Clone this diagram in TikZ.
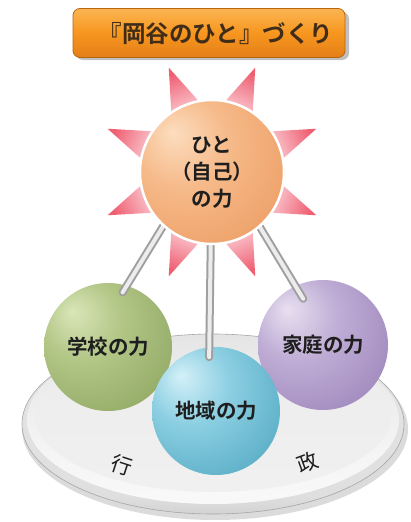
\documentclass[tikz,border=0pt]{standalone}
\usepackage{fontspec}
\newfontfamily\jp[BoldFont={Noto Sans CJK JP Bold}]{Noto Sans CJK JP}
\usetikzlibrary{calc}
\pgfdeclarelayer{bg}
\pgfdeclarelayer{back}
\pgfdeclarelayer{balls}
\pgfdeclarelayer{rods}
\pgfsetlayers{bg,back,balls,rods,main}

\definecolor{sunA}{HTML}{FCDDBF}
\definecolor{sunB}{HTML}{F6BA8A}
\definecolor{sunC}{HTML}{EC9C62}
\definecolor{sunD}{HTML}{D9844A}
\definecolor{grA}{HTML}{D9E6B8}
\definecolor{grB}{HTML}{B2C686}
\definecolor{grC}{HTML}{8FA662}
\definecolor{grD}{HTML}{6A8542}
\definecolor{blA}{HTML}{D4F0F8}
\definecolor{blB}{HTML}{8CCFE2}
\definecolor{blC}{HTML}{52A9C2}
\definecolor{blD}{HTML}{3688A2}
\definecolor{puA}{HTML}{E8E0F0}
\definecolor{puB}{HTML}{C0AED6}
\definecolor{puC}{HTML}{9C84BA}
\definecolor{puD}{HTML}{755894}
\definecolor{rayD}{HTML}{EF5F72}
\definecolor{rayL}{HTML}{FBD3D9}
\definecolor{orT}{HTML}{FBB552}
\definecolor{orM}{HTML}{F7961F}
\definecolor{orB}{HTML}{E47F18}
\definecolor{orE}{HTML}{B8660E}
\definecolor{txt}{HTML}{1E1E1E}

\pgfdeclareradialshading{sunshade}{\pgfpoint{-14bp}{14bp}}{color(0bp)=(sunA); color(16bp)=(sunB); color(40bp)=(sunC); color(66bp)=(sunD)}
\pgfdeclareradialshading{grshade}{\pgfpoint{-14bp}{14bp}}{color(0bp)=(grA); color(16bp)=(grB); color(40bp)=(grC); color(66bp)=(grD)}
\pgfdeclareradialshading{blshade}{\pgfpoint{-14bp}{14bp}}{color(0bp)=(blA); color(16bp)=(blB); color(40bp)=(blC); color(66bp)=(blD)}
\pgfdeclareradialshading{pushade}{\pgfpoint{-14bp}{14bp}}{color(0bp)=(puA); color(16bp)=(puB); color(40bp)=(puC); color(66bp)=(puD)}
\pgfdeclareverticalshading{platerim}{100bp}{color(0bp)=(gray!85); color(12bp)=(gray!60); color(30bp)=(gray!25); color(100bp)=(gray!18)}
\pgfdeclareverticalshading{plateband}{100bp}{color(0bp)=(white); color(40bp)=(gray!8); color(100bp)=(gray!30)}
\pgfdeclareverticalshading{plateface}{100bp}{color(0bp)=(gray!10); color(60bp)=(gray!14); color(100bp)=(gray!28)}

\begin{document}
\begin{tikzpicture}[x=1pt,y=-1pt,
  ball/.style={circle, inner sep=0pt, minimum size=128pt, shade, text=txt,
    font=\jp\bfseries\fontsize{20.5}{24}\selectfont},
  rod/.style={line width=2pt, draw=gray!75, double=gray!15, double distance=4pt, line cap=round},
  titlebox/.style={rounded corners=7pt, minimum width=272pt, minimum height=49pt,
    top color=orT, bottom color=orB, middle color=orM, draw=orE, line width=0.8pt},
  titletxt/.style={text=txt!85!orange, font=\jp\bfseries\fontsize{23.5}{26}\selectfont},
  platetxt/.style={text=txt, font=\jp\fontsize{21}{22}\selectfont}]
\begin{pgfonlayer}{bg}
  \fill[white] (0,0) rectangle (411,522);
\end{pgfonlayer}
\useasboundingbox (0,0) rectangle (411,522);

\begin{pgfonlayer}{back}
  % plate
  \fill[black, opacity=0.14] (215,429) ellipse [x radius=193, y radius=91];
  \shade[shading=platerim, draw=gray!70, line width=0.6pt] (213,424) ellipse [x radius=191, y radius=90];
  \shade[shading=plateband] (213,420) ellipse [x radius=186, y radius=84];
  \shade[shading=plateface] (213,416) ellipse [x radius=178, y radius=76];
  % rays
  \coordinate (sunc) at (212,172);
  \foreach \a in {22.5,67.5,...,337.5}{
    \shade[top color=rayD, bottom color=rayL, shading angle={-\a-90}]
      ($(sunc)+(\a:113)$) -- ($(sunc)+(\a-14:68)$) -- ($(sunc)+(\a+14:68)$) -- cycle;
  }
\end{pgfonlayer}

\begin{pgfonlayer}{balls}
  \node[ball, shading=grshade] (sch) at (108,347) {学校の力};
  \node[ball, shading=pushade, minimum size=130pt] (fam) at (323,345) {家庭の力};
  \node[ball, shading=blshade] (reg) at (216,411) {地域の力};
\end{pgfonlayer}

% sun
\node[circle, inner sep=0pt, minimum size=144pt, shade, shading=sunshade,
  draw=white, line width=2.5pt, text=txt, align=center,
  font=\jp\bfseries\fontsize{20.5}{27}\selectfont] (sun) at (sunc) {ひと\\（自己）\\の力};

\begin{pgfonlayer}{rods}
  \draw[rod, shorten >=-8pt] (sun.228) -- (sch.73);
  \draw[rod, shorten >=-10pt] (sun.269) -- (reg.96);
  \draw[rod, shorten >=-15pt] (sun.311) -- (fam.115);
\end{pgfonlayer}

% plate labels
\node[platetxt, rotate=-18] (gyo) at (122,465) {行};
\node[platetxt, rotate=20] (sei) at (308,462) {政};

% title
\fill[black, opacity=0.25, rounded corners=7pt] (76,12) rectangle (349,60);
\node[titlebox] (title) at (209,33) {};
\node[titletxt] (ttext) at (216,34) {『岡谷のひと』づくり};
\end{tikzpicture}
\end{document}
